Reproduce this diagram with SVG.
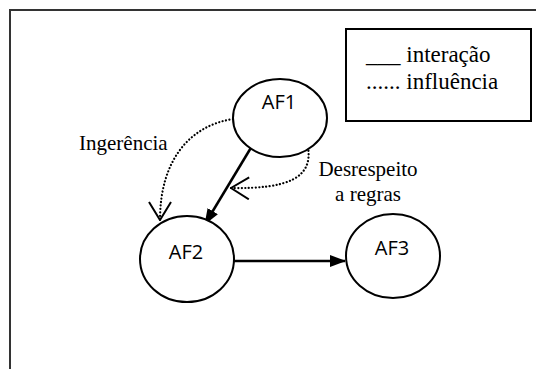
<svg xmlns="http://www.w3.org/2000/svg" width="536" height="369" viewBox="0 0 536 369">
  <style>
    .frame { fill: none; stroke: #333; stroke-width: 2; }
    .node ellipse { fill: #fff; stroke: #000; stroke-width: 2; }
    .node text { font-family: "Open Sans", "Noto Sans", sans-serif; font-size: 20px; fill: #000; text-anchor: middle; }
    .serif { font-family: "Liberation Serif", "Times New Roman", serif; fill: #000; }
    .solid { fill: none; stroke: #000; stroke-width: 2.5; }
    .dotted { fill: none; stroke: #000; stroke-width: 2.2; stroke-dasharray: 0.1 3.4; stroke-linecap: round; }
  </style>
  <defs>
    <marker id="filled" viewBox="0 0 16 12" refX="15" refY="6" markerWidth="16" markerHeight="12" markerUnits="userSpaceOnUse" orient="auto">
      <path d="M0,0 L16,6 L0,12 Z" fill="#000"/>
    </marker>
    <marker id="open" viewBox="0 0 20 24" refX="19" refY="12" markerWidth="20" markerHeight="24" markerUnits="userSpaceOnUse" orient="auto">
      <path d="M1,1 L19,12 L1,23" fill="none" stroke="#000" stroke-width="2"/>
    </marker>
  </defs>

  <!-- outer frame -->
  <path class="frame" d="M10,369 V10 H536"/>

  <!-- legend -->
  <g id="legend">
    <rect x="346" y="29" width="185" height="92" fill="#fff" stroke="#000" stroke-width="2"/>
    <text class="serif" x="366" y="62" font-size="23">___ interação</text>
    <text class="serif" x="366" y="89" font-size="23">...... influência</text>
  </g>

  <!-- connectors -->
  <g id="connectors">
    <path class="solid" d="M252,146 L205,224" marker-end="url(#filled)"/>
    <path class="solid" d="M234,261 L345,261" marker-end="url(#filled)"/>
    <path class="dotted" d="M233,119 C188,126 160,162 160,220" marker-end="url(#open)"/>
    <path class="dotted" d="M308,147 C313,178 288,189 231,188" marker-end="url(#open)"/>
    <text class="serif" x="79" y="150" font-size="21">Ingerência</text>
    <text class="serif" x="368" y="176" font-size="21" text-anchor="middle">Desrespeito</text>
    <text class="serif" x="368" y="201" font-size="21" text-anchor="middle">a regras</text>
  </g>

  <!-- nodes -->
  <g id="AF1" class="node">
    <ellipse cx="280" cy="118" rx="47" ry="39"/>
    <text x="279" y="109">AF1</text>
  </g>
  <g id="AF2" class="node">
    <ellipse cx="187" cy="259" rx="47" ry="43"/>
    <text x="186" y="259">AF2</text>
  </g>
  <g id="AF3" class="node">
    <ellipse cx="393" cy="256" rx="47" ry="42"/>
    <text x="392" y="255">AF3</text>
  </g>
</svg>
